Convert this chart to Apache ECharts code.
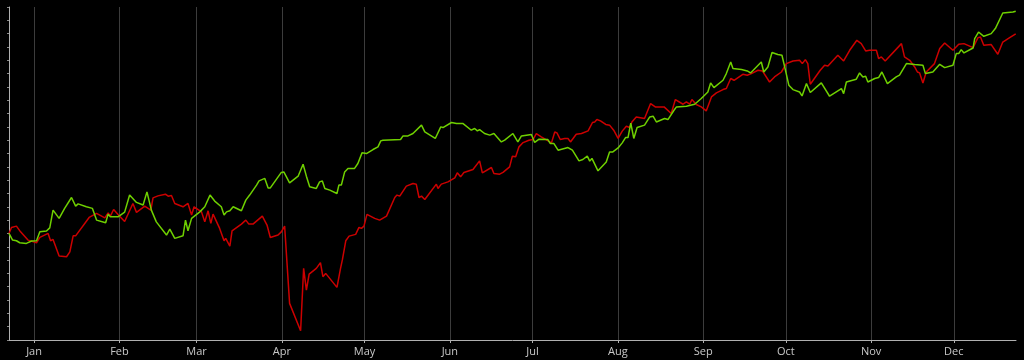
<!DOCTYPE html>
<html>
<head>
<meta charset="utf-8">
<script src="https://cdn.jsdelivr.net/npm/echarts@6/dist/echarts.min.js"></script>
<style>
html,body{margin:0;padding:0;background:#000;}
#chart{width:1024px;height:360px;}
</style>
</head>
<body>
<div id="chart"></div>
<script>
// Day offsets from 1 January (negative = late December of the previous year)
var greenDay = [-9.1,-7.8,-6.4,-5.2,-2.8,-0.9,0.9,2.1,4.5,5.7,6.9,7.5,9.1,11.1,13.6,15.1,16.0,19.0,21.2,22.7,26.0,26.9,27.7,30.5,32.9,34.7,37.2,39.6,41.0,42.6,44.4,48.1,49.3,49.9,51.1,54.1,55.0,55.9,57.2,60.2,62.0,63.9,65.6,68.0,69.0,69.9,71.1,72.3,75.3,76.9,78.3,80.8,81.7,83.8,85.0,85.8,89.8,90.7,92.8,95.9,97.7,98.9,100.1,102.5,103.7,104.7,105.6,107.4,110.0,110.7,111.6,112.8,114.0,116.4,117.6,119.1,120.7,123.1,124.9,125.9,126.7,133.1,134.0,135.8,137.6,140.7,141.9,145.7,147.7,148.5,151.6,153.4,155.8,158.8,160.0,161.0,161.8,163.6,165.5,167.0,169.7,170.9,173.9,175.7,177.0,180.6,181.8,183.4,186.6,187.5,188.8,190.3,193.9,195.5,197.9,199.3,200.9,201.8,202.6,204.8,207.8,209.0,210.2,212.1,213.6,214.8,215.7,216.7,217.1,217.8,219.0,221.7,223.6,224.8,226.0,229.0,230.2,232.4,233.3,236.9,237.5,239.9,242.3,244.7,245.7,246.9,250.2,251.4,252.0,253.0,253.8,256.9,259.0,260.2,260.9,264.1,265.0,266.5,268.0,270.1,271.6,272.6,274.1,275.6,278.0,278.9,280.5,281.9,285.9,288.9,293.2,294.0,295.0,298.6,299.8,301.0,302.0,302.8,305.3,306.7,307.9,309.9,313.1,314.3,316.8,319.8,322.8,323.7,326.4,328.9,330.7,333.7,334.9,335.8,336.7,337.7,341.0,341.6,343.0,344.9,347.6,349.1,351.8,355.5,356.5];
var greenVal = [80.0,75.0,74.5,73.0,72.5,74.3,74.5,81.2,81.8,84.2,97.5,96.2,91.3,98.8,107.0,100.5,102.2,100.0,98.8,90.0,88.0,94.5,92.5,92.5,96.0,108.8,103.3,101.3,111.2,97.5,88.7,78.8,83.3,82.5,76.3,78.2,90.0,82.0,91.3,96.2,100.0,108.8,104.3,100.0,93.8,96.2,97.0,100.0,97.0,105.0,108.8,116.3,119.5,121.3,114.2,114.2,125.8,126.2,118.0,123.0,132.0,123.0,115.0,113.8,118.7,119.3,113.8,112.5,110.0,116.3,116.3,126.2,128.8,128.8,132.5,140.5,140.0,143.0,145.0,149.5,150.0,150.5,153.2,153.2,155.0,161.3,156.2,151.3,160.0,159.5,163.3,162.5,162.5,157.5,158.8,157.0,158.0,155.0,153.8,155.0,148.7,150.0,155.0,148.7,153.2,154.3,148.3,150.8,150.5,147.5,147.5,142.5,144.5,142.5,134.5,135.5,138.0,134.3,136.3,127.0,133.7,141.2,141.2,144.2,148.0,152.0,152.0,162.8,163.7,151.3,159.5,161.3,167.5,168.0,163.7,166.3,165.5,172.5,175.0,175.5,177.0,177.0,181.3,186.2,193.0,189.5,195.0,200.0,200.0,208.7,203.8,203.0,202.0,200.5,200.5,208.7,201.2,205.0,215.8,214.3,213.8,205.0,191.3,188.0,186.2,183.2,192.5,185.8,193.0,183.0,188.8,185.0,193.7,195.8,200.5,197.5,198.0,193.7,196.3,197.0,201.2,192.5,197.5,198.8,207.5,206.8,206.3,200.0,201.2,207.0,204.5,206.3,215.0,215.0,218.0,215.5,219.2,226.3,231.2,228.0,230.0,233.8,245.5,246.2,246.8];

var redDay = [-9.1,-8.2,-6.4,-4.9,-2.2,0.9,2.1,5.1,6.0,6.9,9.1,11.8,13.0,14.2,15.1,20.0,22.7,25.7,26.9,27.7,28.9,30.5,32.9,35.9,37.2,40.2,42.4,43.2,45.0,47.7,48.7,49.9,51.1,54.1,55.9,57.2,58.1,60.8,62.0,63.2,64.2,65.0,67.4,69.0,69.6,71.1,71.9,75.3,75.9,76.9,78.0,79.5,82.9,84.6,85.8,88.6,89.8,91.0,92.8,96.8,97.9,98.9,99.9,102.5,104.0,104.9,105.9,110.0,111.3,112.0,113.2,114.4,116.8,118.0,118.9,119.8,120.9,123.7,125.5,128.0,131.0,131.8,132.8,135.2,137.6,138.8,139.8,140.7,141.9,146.1,146.7,147.9,150.3,152.8,153.7,154.9,156.1,159.4,161.8,162.8,166.1,167.0,169.1,170.3,172.7,173.7,174.9,176.1,177.6,179.7,181.2,182.4,184.2,187.9,189.1,189.9,191.1,192.7,193.9,194.8,196.9,198.8,201.2,202.8,203.6,204.4,205.7,207.6,209.0,210.5,212.1,213.6,215.1,216.3,217.1,218.7,221.7,223.9,225.6,228.8,231.4,232.9,235.7,236.9,238.1,238.9,240.5,242.3,244.1,246.0,247.8,250.2,251.4,253.0,254.2,257.4,259.0,260.5,262.9,264.5,267.1,268.9,271.4,273.2,275.6,278.0,279.0,280.1,281.0,281.9,285.5,286.2,287.1,288.3,291.9,294.0,296.2,298.8,300.4,302.0,303.4,305.9,306.7,307.7,309.1,315.0,316.1,318.0,319.8,320.8,321.6,322.8,324.0,327.0,328.9,330.7,333.7,335.8,337.7,341.0,342.8,343.7,344.9,347.6,350.0,351.8,354.3,356.5];
var redVal = [80.0,84.5,85.5,81.2,75.0,73.0,77.0,80.0,74.5,75.5,63.0,62.5,66.2,78.2,78.2,92.0,95.0,91.7,95.5,93.0,98.0,94.3,89.0,102.5,95.8,100.5,97.5,106.7,108.2,109.5,108.0,108.5,102.5,100.0,102.5,93.8,100.0,96.2,88.7,97.0,87.5,94.5,83.8,74.5,76.3,70.5,82.0,87.0,85.7,90.0,87.0,87.0,93.0,86.3,77.0,78.8,81.2,85.5,27.5,7.0,53.8,37.5,49.5,53.8,58.0,47.5,50.0,39.5,53.8,60.5,74.5,78.0,79.3,84.5,83.8,85.5,94.3,91.3,90.0,93.0,107.0,108.8,108.0,115.5,117.5,117.0,107.0,108.0,105.5,117.0,113.8,117.0,118.7,121.7,125.5,122.5,125.8,128.0,134.5,125.5,129.5,125.0,124.5,125.8,130.0,138.0,137.5,145.0,148.2,150.0,150.5,155.0,152.5,148.0,156.2,155.5,150.5,151.3,151.3,148.7,154.5,155.0,157.0,163.3,163.7,165.5,164.5,161.8,161.3,157.5,151.3,156.8,160.5,159.5,163.7,167.5,166.3,177.5,175.0,175.0,170.0,180.5,177.0,178.7,177.0,180.5,176.8,175.0,172.0,182.5,185.5,188.0,188.8,196.3,195.0,199.5,198.8,200.0,202.5,202.0,193.7,197.5,201.2,207.5,209.5,210.0,207.5,210.5,207.5,192.0,202.5,202.0,206.3,205.7,213.8,209.5,217.5,225.0,222.5,217.0,217.5,217.5,211.3,212.5,209.5,222.5,212.5,210.0,205.0,201.2,200.5,193.0,201.2,207.5,218.8,223.0,217.5,222.0,222.5,219.5,227.0,227.5,221.3,221.8,214.5,223.7,227.0,229.9];

var monthLabels = ['Jan','Feb','Mar','Apr','May','Jun','Jul','Aug','Sep','Oct','Nov','Dec'];
var DAY = 86400000;
var BASE_YEAR = 2021;
var xStartDay = -9.1, xEndDay = 356.6;
var yMin = 0, yMax = 250, yStep = 10;

function toTime(d){ return new Date(BASE_YEAR, 0, 1).getTime() + d * DAY; }
function pairs(days, vals){ return days.map(function(d,i){ return [toTime(d), vals[i]]; }); }

var chart = echarts.init(document.getElementById('chart'), null, {renderer:'canvas'});
chart.setOption({
  backgroundColor: '#000000',
  animation: false,
  grid: {left: 9, right: 8, top: 7, bottom: 20, containLabel: false},
  xAxis: {
    type: 'time',
    min: toTime(xStartDay),
    max: toTime(xEndDay),
    splitNumber: 12,
    axisLine: {show: true, onZero: false, lineStyle: {color: '#b0b0b0', width: 1}},
    axisTick: {show: true, length: 3, lineStyle: {color: '#b0b0b0'}},
    axisLabel: {
      show: true, color: '#c8c8c8', fontSize: 11, fontFamily: 'Open Sans, Noto Sans, sans-serif',
      margin: 6, showMinLabel: false, showMaxLabel: false, hideOverlap: false,
      formatter: function(v){ return monthLabels[new Date(v).getMonth()]; }
    },
    splitLine: {show: true, showMinLine: false, showMaxLine: false, lineStyle: {color: '#3c3c3c', width: 1}}
  },
  yAxis: {
    type: 'value',
    min: yMin, max: yMax, interval: yStep,
    axisLine: {show: true, lineStyle: {color: '#b0b0b0', width: 1}},
    axisTick: {show: true, inside: false, length: 2, lineStyle: {color: '#8a8a8a'}},
    axisLabel: {show: false},
    splitLine: {show: false}
  },
  series: [
    {
      name: 'Series A', type: 'line', data: pairs(redDay, redVal),
      showSymbol: false, symbol: 'none',
      lineStyle: {color: '#cc0000', width: 1.5}, z: 2
    },
    {
      name: 'Series B', type: 'line', data: pairs(greenDay, greenVal),
      showSymbol: false, symbol: 'none',
      lineStyle: {color: '#6fd000', width: 1.5}, z: 3
    }
  ]
});
</script>
</body>
</html>
